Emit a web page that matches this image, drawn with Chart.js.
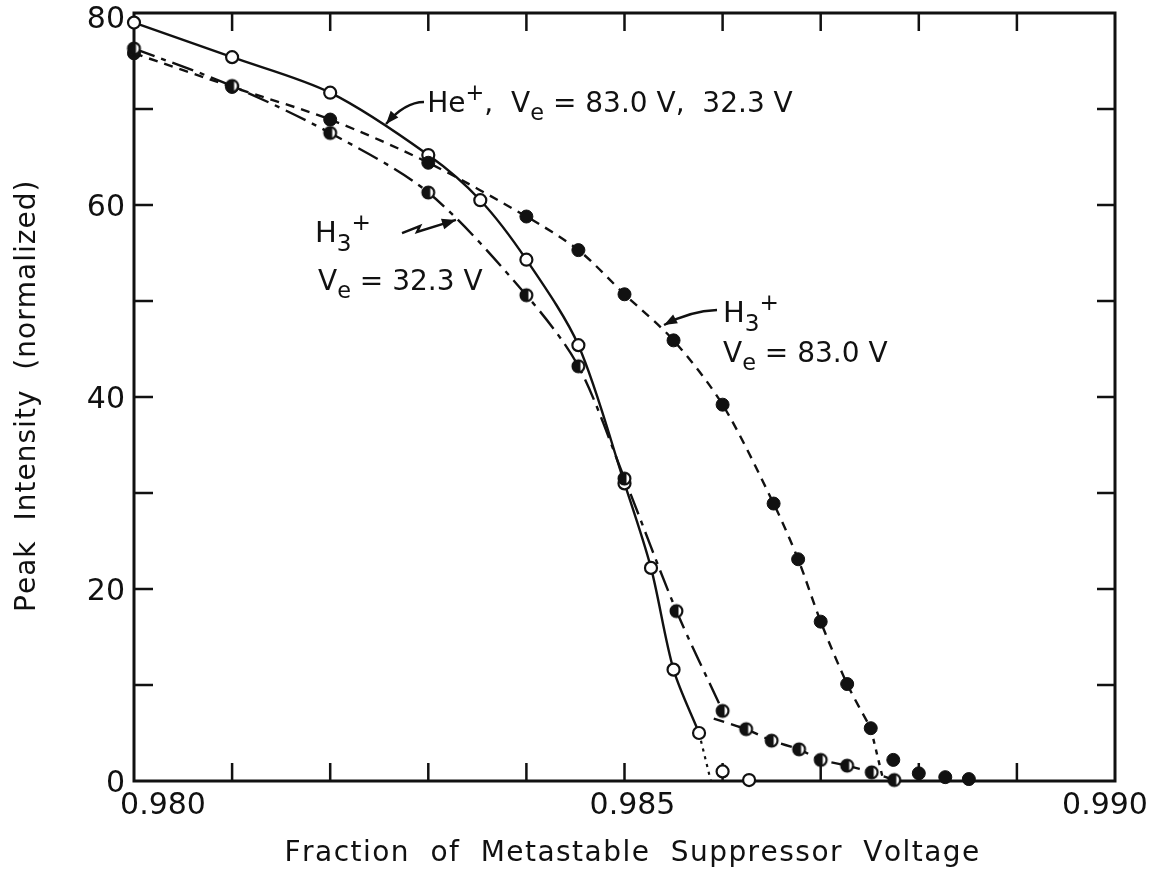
<!DOCTYPE html>
<html lang="en">
<head>
<meta charset="UTF-8">
<title>Peak Intensity vs Suppressor Voltage</title>
<script src="https://cdn.jsdelivr.net/npm/chart.js"></script>
<style>
  html, body { margin: 0; padding: 0; background: #fff; }
</style>
</head>
<body>
<canvas id="chart" width="1160" height="888"></canvas>

<script>
// He+ (open circles), Ve = 83.0 V and 32.3 V
const heX = [0.9800, 0.9810, 0.9820, 0.9830, 0.98353, 0.9840, 0.98453, 0.9850, 0.98527, 0.9855, 0.98576, 0.9860, 0.98627];
const heY = [79.0, 75.4, 71.7, 65.2, 60.5, 54.3, 45.4, 31.0, 22.2, 11.6, 5.0, 1.0, 0.1];
const heCurveCount = 11;          // solid curve through these, then a dotted drop
const heTailEnd = [0.98588, 0];

// H3+ at Ve = 83.0 V (filled circles)
const h83X = [0.9800, 0.9810, 0.9820, 0.9830, 0.9840, 0.98453, 0.9850, 0.9855, 0.9860, 0.98652, 0.98677, 0.9870, 0.98727, 0.98751, 0.98774, 0.9880, 0.98827, 0.98851];
const h83Y = [75.8, 72.3, 68.9, 64.4, 58.8, 55.3, 50.7, 45.9, 39.2, 28.9, 23.1, 16.6, 10.1, 5.5, 2.2, 0.8, 0.4, 0.2];
const h83CurveCount = 14;
const h83TailEnd = [0.98764, 0];

// H3+ at Ve = 32.3 V (half-filled circles)
const h32X = [0.9800, 0.9810, 0.9820, 0.9830, 0.9840, 0.98453, 0.9850, 0.98553, 0.9860, 0.98624, 0.9865, 0.98678, 0.9870, 0.98727, 0.98752, 0.98775];
const h32Y = [76.3, 72.4, 67.5, 61.3, 50.6, 43.2, 31.5, 17.7, 7.3, 5.4, 4.2, 3.3, 2.2, 1.6, 0.9, 0.1];
const h32CurveCount = 9;
const h32TailStart = [0.98591, 6.5];

// axes
const xTicks = [0.980, 0.981, 0.982, 0.983, 0.984, 0.985, 0.986, 0.987, 0.988, 0.989, 0.990];
const yTicks = [0, 10, 20, 30, 40, 50, 60, 70, 80];
const xTickLabels = ['0.980', '0.985', '0.990'];
const yTickLabels = ['0', '20', '40', '60', '80'];
const xTitle = 'Fraction of Metastable Suppressor Voltage';
const yTitle = 'Peak Intensity (normalized)';

const INK = '#111';
const FONT = '"DejaVu Sans", sans-serif';

function pts(xs, ys, from, to) {
  const out = [];
  for (let i = from; i < to; i++) out.push({ x: xs[i], y: ys[i] });
  return out;
}

// half-filled marker used for the 32.3 V points
function halfDot(r) {
  const c = document.createElement('canvas');
  const s = Math.ceil(r * 2 + 4);
  c.width = s; c.height = s;
  const g = c.getContext('2d');
  const m = s / 2;
  g.fillStyle = '#fff';
  g.beginPath(); g.arc(m, m, r, 0, Math.PI * 2); g.fill();
  g.fillStyle = INK;
  g.beginPath(); g.arc(m, m, r, Math.PI * 0.5, Math.PI * 1.5); g.closePath(); g.fill();
  g.fillRect(m - 0.5, m - r, 2.5, r * 2);
  g.strokeStyle = INK; g.lineWidth = 2.2;
  g.beginPath(); g.arc(m, m, r - 0.6, 0, Math.PI * 2); g.stroke();
  return c;
}

const lineBase = {
  borderColor: INK, borderWidth: 2.4, pointRadius: 0, fill: false,
  tension: 0.3, clip: false, order: 2
};
const markBase = { showLine: false, clip: false, order: 1, pointBorderColor: INK };

const heCurve = pts(heX, heY, 0, heCurveCount);
const h83Curve = pts(h83X, h83Y, 0, h83CurveCount);
const h32Curve = pts(h32X, h32Y, 0, h32CurveCount);

const datasets = [
  Object.assign({}, lineBase, { data: heCurve }),
  Object.assign({}, lineBase, { data: [heCurve[heCurve.length - 1], { x: heTailEnd[0], y: heTailEnd[1] }], borderDash: [3, 5], borderWidth: 2.2, tension: 0 }),
  Object.assign({}, lineBase, { data: h83Curve, borderDash: [9, 7] }),
  Object.assign({}, lineBase, { data: [h83Curve[h83Curve.length - 1], { x: h83TailEnd[0], y: h83TailEnd[1] }], borderDash: [5, 6], tension: 0 }),
  Object.assign({}, lineBase, { data: h32Curve, borderDash: [22, 7, 5, 7] }),
  Object.assign({}, lineBase, { data: [{ x: h32TailStart[0], y: h32TailStart[1] }].concat(pts(h32X, h32Y, h32CurveCount, h32X.length)), borderDash: [11, 7], tension: 0.2 }),
  Object.assign({}, markBase, { data: pts(h32X, h32Y, 0, h32X.length), pointStyle: halfDot(6.5), pointRadius: 7 }),
  Object.assign({}, markBase, { data: pts(h83X, h83Y, 0, h83X.length), pointRadius: 6.5, pointBackgroundColor: INK, pointBorderWidth: 1 }),
  Object.assign({}, markBase, { data: pts(heX, heY, 0, heX.length), pointRadius: 6, pointBackgroundColor: '#fff', pointBorderWidth: 2.2 })
];

// labels written on the plot, anchored in data units
function richText(ctx, x, y, parts, size) {
  let cx = x;
  for (const [t, mode] of parts) {
    const s = mode ? size * 0.8 : size;
    ctx.font = s + 'px ' + FONT;
    const dy = mode === 'sub' ? size * 0.3 : mode === 'sup' ? -size * 0.42 : 0;
    ctx.fillText(t, cx, y + dy);
    cx += ctx.measureText(t).width;
  }
}

function arrowHead(ctx, x0, y0, x1, y1, len, wid) {
  const a = Math.atan2(y1 - y0, x1 - x0);
  ctx.beginPath();
  ctx.moveTo(x1, y1);
  ctx.lineTo(x1 - len * Math.cos(a) + wid * Math.sin(a), y1 - len * Math.sin(a) - wid * Math.cos(a));
  ctx.lineTo(x1 - len * Math.cos(a) - wid * Math.sin(a), y1 - len * Math.sin(a) + wid * Math.cos(a));
  ctx.closePath();
  ctx.fill();
}

// lettered titles: spare width goes partly between letters, partly between words
function spreadText(ctx, text, cx, baseY, width, size) {
  ctx.font = size + 'px ' + FONT;
  ctx.textAlign = 'left';
  ctx.textBaseline = 'alphabetic';
  const words = text.split(' ');
  const plain = words.map(w => ctx.measureText(w).width);
  const letters = words.reduce((n, w) => n + w.length - 1, 0);
  const spare = width - plain.reduce((p, q) => p + q, 0);
  const ls = Math.max(0, spare * 0.35 / letters);
  const gap = (spare - ls * letters) / (words.length - 1);
  let x = cx - width / 2;
  words.forEach((w, i) => {
    for (const ch of w) {
      ctx.fillText(ch, x, baseY);
      x += ctx.measureText(ch).width + ls;
    }
    x += gap - ls;
  });
}

const frame = {
  id: 'frame',
  beforeDatasetsDraw(chart) {
    const { ctx, chartArea: a } = chart;
    const xs = chart.scales.x, ys = chart.scales.y;
    ctx.save();
    ctx.strokeStyle = INK;
    ctx.fillStyle = INK;
    ctx.lineWidth = 3;
    ctx.strokeRect(a.left, a.top, a.right - a.left, a.bottom - a.top);

    ctx.lineWidth = 2.5;
    ctx.beginPath();
    xTicks.slice(1, -1).forEach(v => {
      const px = xs.getPixelForValue(v);
      ctx.moveTo(px, a.bottom); ctx.lineTo(px, a.bottom - 18);
      ctx.moveTo(px, a.top); ctx.lineTo(px, a.top + 18);
    });
    yTicks.slice(1, -1).forEach(v => {
      const py = ys.getPixelForValue(v);
      ctx.moveTo(a.left, py); ctx.lineTo(a.left + 19, py);
      ctx.moveTo(a.right, py); ctx.lineTo(a.right - 18, py);
    });
    ctx.stroke();

    // tick labels
    ctx.font = '30px ' + FONT;
    ctx.textAlign = 'right';
    ctx.textBaseline = 'middle';
    yTickLabels.forEach((t, i) => {
      const nudge = i === yTickLabels.length - 1 ? 7 : 3;
      ctx.fillText(t, a.left - 9, ys.getPixelForValue(Number(t)) + nudge);
    });
    ctx.textAlign = 'center';
    ctx.textBaseline = 'alphabetic';
    const shift = [29, 8, -10];
    xTickLabels.forEach((t, i) => {
      ctx.fillText(t, xs.getPixelForValue(Number(t)) + shift[i], a.bottom + 33);
    });

    // axis titles
    spreadText(ctx, xTitle, (a.left + a.right) / 2 + 5, 861, 690, 28);
    ctx.save();
    ctx.translate(35, 397);
    ctx.rotate(-Math.PI / 2);
    spreadText(ctx, yTitle, 0, 0, 430, 28);
    ctx.restore();
    ctx.restore();
  },
  afterDatasetsDraw(chart) {
    const { ctx } = chart;
    const xs = chart.scales.x, ys = chart.scales.y;
    const P = (x, y) => [xs.getPixelForValue(x), ys.getPixelForValue(y)];
    ctx.save();
    ctx.fillStyle = INK;
    ctx.strokeStyle = INK;
    ctx.textAlign = 'left';
    ctx.textBaseline = 'alphabetic';

    // He+ label and arrow
    let [x, y] = P(0.98299, 69.7);
    richText(ctx, x, y, [['He'], ['+', 'sup'], [',  V'], ['e', 'sub'], [' = 83.0 V,  32.3 V']], 28);
    let s = P(0.982956, 70.73), c = P(0.982762, 70.73), e = P(0.982569, 68.44);
    ctx.lineWidth = 2.4;
    ctx.beginPath(); ctx.moveTo(s[0], s[1]); ctx.quadraticCurveTo(c[0], c[1], e[0], e[1]); ctx.stroke();
    arrowHead(ctx, c[0], c[1], e[0], e[1], 13, 5);

    // H3+ at 32.3 V, with zigzag arrow
    [x, y] = P(0.981845, 56.15);
    richText(ctx, x, y, [['H'], ['3', 'sub'], ['+', 'sup']], 29);
    [x, y] = P(0.981876, 51.15);
    richText(ctx, x, y, [['V'], ['e', 'sub'], [' = 32.3 V']], 28);
    const zig = [P(0.982732, 57.08), P(0.982915, 57.81), P(0.982885, 57.19), P(0.983282, 58.44)];
    ctx.beginPath();
    zig.forEach((p, i) => i ? ctx.lineTo(p[0], p[1]) : ctx.moveTo(p[0], p[1]));
    ctx.stroke();
    arrowHead(ctx, zig[2][0], zig[2][1], zig[3][0], zig[3][1], 14, 5.5);

    // H3+ at 83.0 V, with curved arrow
    [x, y] = P(0.986004, 47.81);
    richText(ctx, x, y, [['H'], ['3', 'sub'], ['+', 'sup']], 29);
    [x, y] = P(0.986004, 43.65);
    richText(ctx, x, y, [['V'], ['e', 'sub'], [' = 83.0 V']], 28);
    s = P(0.985943, 49.06); c = P(0.985668, 48.96); e = P(0.985403, 47.5);
    ctx.beginPath(); ctx.moveTo(s[0], s[1]); ctx.quadraticCurveTo(c[0], c[1], e[0], e[1]); ctx.stroke();
    arrowHead(ctx, c[0], c[1], e[0], e[1], 13, 5);
    ctx.restore();
  }
};

new Chart(document.getElementById('chart'), {
  type: 'line',
  data: { datasets },
  options: {
    responsive: false,
    animation: false,
    devicePixelRatio: 1,
    layout: { padding: { left: 134, right: 45, top: 13, bottom: 107 } },
    scales: {
      x: { type: 'linear', min: 0.980, max: 0.990, display: false },
      y: { type: 'linear', min: 0, max: 80, display: false }
    },
    plugins: { legend: { display: false }, tooltip: { enabled: false } },
    events: []
  },
  plugins: [frame]
});
</script>
</body>
</html>
